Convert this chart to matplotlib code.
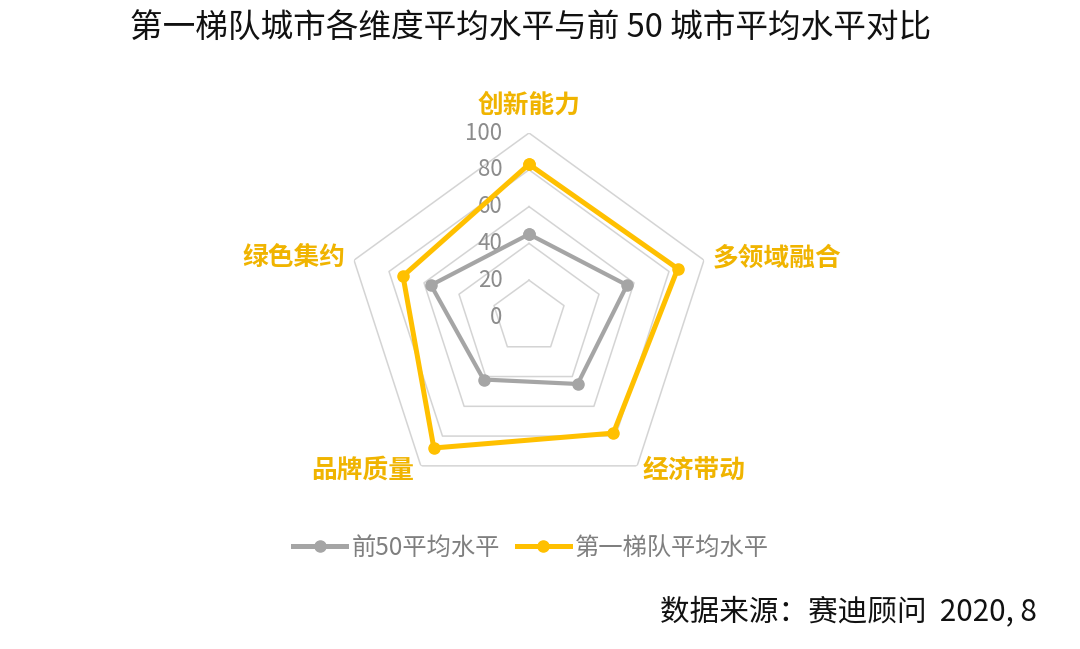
import numpy as np
import matplotlib
matplotlib.use("Agg")
import matplotlib.pyplot as plt
from matplotlib.lines import Line2D

plt.rcParams['font.family'] = ['Noto Sans CJK SC', 'DejaVu Sans']

title = "第一梯队城市各维度平均水平与前 50 城市平均水平对比"
source = "数据来源：赛迪顾问  2020, 8"
categories = ["创新能力", "多领域融合", "经济带动", "品牌质量", "绿色集约"]
ring_values = [0, 20, 40, 60, 80, 100]
top50 = [45, 56, 45, 42, 56]
tier1 = [83, 85, 78, 88, 72]
series_names = ["前50平均水平", "第一梯队平均水平"]

GRAY = "#A5A5A5"
GOLD = "#FFC000"
LABEL_GOLD = "#F0B400"

fig = plt.figure(figsize=(10.8, 6.49), dpi=100)
# center at (529, 317) px, outer radius 184 px
ax = fig.add_axes([345 / 1080, (649 - 317 - 184) / 649, 368 / 1080, 368 / 649],
                  projection="polar")
ax.set_theta_offset(np.pi / 2)
ax.set_theta_direction(-1)
ax.set_ylim(0, 100)
ax.grid(False)
ax.spines["polar"].set_visible(False)
ax.set_xticks([])
ax.set_yticks([])
ax.patch.set_alpha(0)

n = len(categories)
angles = np.linspace(0, 2 * np.pi, n, endpoint=False)
closed = np.concatenate([angles, angles[:1]])

# pentagon grid
for v in ring_values[1:]:
    ax.plot(closed, [v] * (n + 1), color="#D4D4D4", lw=1.1, zorder=1)

# ring labels
for v in ring_values:
    ax.annotate(str(v), xy=(0, v), xytext=(-19, 0), textcoords="offset points",
                ha="right", va="center", fontsize=16, color="#8C8C8C", zorder=2)

for vals, col, lw in [(top50, GRAY, 3.0), (tier1, GOLD, 3.6)]:
    ax.plot(closed, vals + vals[:1], color=col, lw=lw, marker="o",
            markersize=8, zorder=3)

# category labels
offsets = [(0, 20, "center", "center"), (6, 2, "left", "center"),
           (4, -3, "left", "center"), (-5, -3, "right", "center"),
           (-6, 2, "right", "center")]
for a, c, (dx, dy, ha, va) in zip(angles, categories, offsets):
    ax.annotate(c, xy=(a, 100), xytext=(dx, dy), textcoords="offset points",
                ha=ha, va=va, fontsize=18.5, fontweight="bold",
                color=LABEL_GOLD, annotation_clip=False)

fig.text(531 / 1080, 1 - 28 / 649, title, ha="center", va="center",
         fontsize=23.5, color="#111111")

handles = [Line2D([], [], color=GRAY, lw=3.6, marker="o", markersize=8),
           Line2D([], [], color=GOLD, lw=3.6, marker="o", markersize=8)]
fig.legend(handles, series_names, loc="center",
           bbox_to_anchor=(531 / 1080, 1 - 548 / 649), ncol=2, frameon=False,
           fontsize=17.5, handlelength=2.2, handletextpad=0.2,
           columnspacing=0.7, labelcolor="#7F7F7F")

fig.text(1037 / 1080, 1 - 612 / 649, source, ha="right", va="center",
         fontsize=21.3, color="#111111")

fig.savefig("out.png", dpi=100)
